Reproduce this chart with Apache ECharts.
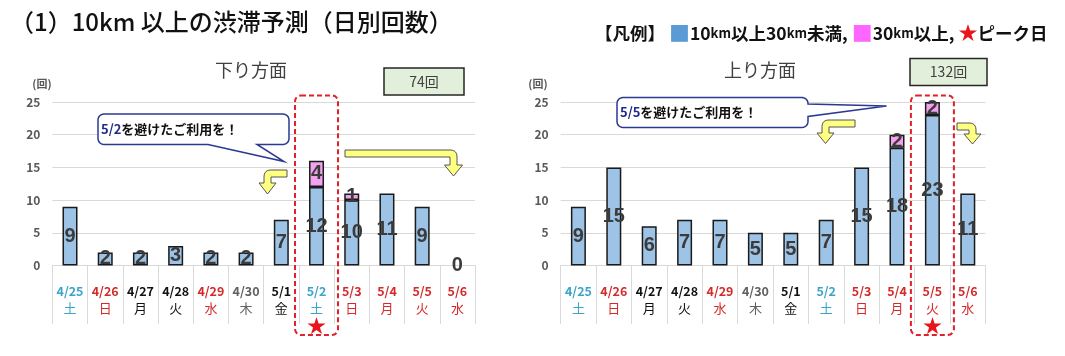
<!DOCTYPE html>
<html><head><meta charset="utf-8">
<script src="https://cdn.jsdelivr.net/npm/echarts@6/dist/echarts.min.js"></script>
<style>html,body{margin:0;padding:0;background:#fff}#c{width:1065px;height:356px}</style>
</head><body><div id="c"></div>
<script>
// ---- data ----
const categoryDates = ['4/25','4/26','4/27','4/28','4/29','4/30','5/1','5/2','5/3','5/4','5/5','5/6'];
const categoryWeekdays = ['土','日','月','火','水','木','金','土','日','月','火','水'];
const categoryColorKeys = ['c','r','k','k','r','g','k','c','r','r','r','r'];
const downUnder30 = [9,2,2,3,2,2,7,12,10,11,9,0];
const downOver30  = [0,0,0,0,0,0,0,4,1,0,0,0];
const upUnder30   = [9,15,6,7,7,5,5,7,15,18,23,11];
const upOver30    = [0,0,0,0,0,0,0,0,0,2,2,0];
const downPeakIndex = 7;
const upPeakIndex = 10;
const downTotalLabel = '74回';
const upTotalLabel = '132回';
const yMin = 0, yMax = 25, yStep = 5;

// ---- style ----
const FONT = "'Noto Sans CJK JP', sans-serif";
const colorMap = {c:'#3aa5c9', r:'#d42a2a', k:'#111111', g:'#606060'};
const rich = {};
Object.keys(colorMap).forEach(k => {
  rich['d'+k] = {color: colorMap[k], fontWeight:'bold', fontSize:12.5, lineHeight:17, fontFamily: FONT};
  rich['w'+k] = {color: colorMap[k], fontSize:13, lineHeight:17, fontFamily: FONT};
});
rich.s = {color:'#e8141e', fontSize:19, lineHeight:17, fontFamily: FONT};

function xAxisCfg(gridIndex, peak) {
  return {
    type:'category', gridIndex, data: categoryDates,
    axisLine:{show:true, lineStyle:{color:'#d9d9d9', width:1}},
    axisTick:{show:true, length:58.5, interval:0, lineStyle:{color:'#d9d9d9', width:1}},
    axisLabel:{interval:0, margin:17.5, rich,
      formatter:(v, i) => {
        const k = categoryColorKeys[i];
        let s = '{d'+k+'|'+v+'}\n{w'+k+'|'+categoryWeekdays[i]+'}';
        if (i === peak) s += '\n{s|★}';
        return s;
      }}
  };
}
function yAxisCfg(gridIndex) {
  return {
    type:'value', gridIndex, min:yMin, max:yMax, interval:yStep,
    axisLine:{show:false}, axisTick:{show:false},
    splitLine:{lineStyle:{color:'#d9d9d9', width:1}},
    axisLabel:{color:'#595959', fontSize:12, fontWeight:'bold', margin:12, fontFamily: FONT}
  };
}
function barSeries(data, xi, stack, color, hideZero) {
  return {
    type:'bar', xAxisIndex:xi, yAxisIndex:xi, stack, barWidth:15,
    data: data.map(v => v === 0 ? {value:v, itemStyle:{borderWidth:0}} : v),
    itemStyle:{color, borderColor:'#1a1a1a', borderWidth:1.5},
    label:{show:true, position:'inside', color:'#3b3b3b', fontSize:20, fontWeight:'bold',
      fontFamily:"'Liberation Sans', sans-serif",
      formatter: p => (hideZero && p.value === 0) ? '' : String(p.value)},
    z: 3
  };
}

const chart = echarts.init(document.getElementById('c'), null, {renderer:'canvas'});
chart.setOption({
  animation:false,
  backgroundColor:'#ffffff',
  textStyle:{fontFamily: FONT},
  grid:[
    {left:52.4, right:590, top:102, bottom:90.5},
    {left:560.7, right:79.5, top:102, bottom:90.5}
  ],
  xAxis:[xAxisCfg(0, downPeakIndex), xAxisCfg(1, upPeakIndex)],
  yAxis:[yAxisCfg(0), yAxisCfg(1)],
  series:[
    barSeries(downUnder30, 0, 'down', '#9dc3e6', false),
    barSeries(downOver30, 0, 'down', '#f2a2ee', true),
    barSeries(upUnder30, 1, 'up', '#9dc3e6', false),
    barSeries(upOver30, 1, 'up', '#f2a2ee', true)
  ]
});

// ---- annotation helpers ----
function quad(p0, c, p1, n) {
  const pts = [];
  for (let i = 1; i <= n; i++) {
    const t = i / n, u = 1 - t;
    pts.push([u*u*p0[0] + 2*u*t*c[0] + t*t*p1[0], u*u*p0[1] + 2*u*t*c[1] + t*t*p1[1]]);
  }
  return pts;
}
function bentArrow(x0, y0, x1, t, yh, ytip, hw, dir) {
  const r = 7;
  let pts;
  if (dir === 1) {
    pts = [[x0,y0],[x1-r,y0], ...quad([x1-r,y0],[x1,y0],[x1,y0+r],6),
      [x1,yh],[x1+hw,yh],[x1-t/2,ytip],[x1-t-hw,yh],[x1-t,yh],[x1-t,y0+t],[x0,y0+t]];
  } else {
    pts = [[x0,y0],[x1+r,y0], ...quad([x1+r,y0],[x1,y0],[x1,y0+r],6),
      [x1,yh],[x1-hw,yh],[x1+t/2,ytip],[x1+t+hw,yh],[x1+t,yh],[x1+t,y0+t],[x0,y0+t]];
  }
  return {type:'polygon', shape:{points:pts}, style:{fill:'#ffff80', stroke:'#555555', lineWidth:1}, z:10};
}
function arcPts(cx, cy, r, a0, a1) {
  const pts = [];
  for (let i = 0; i <= 6; i++) {
    const a = (a0 + (a1 - a0) * i / 6) * Math.PI / 180;
    pts.push([cx + r*Math.cos(a), cy + r*Math.sin(a)]);
  }
  return pts;
}
function callout(x1, y1, x2, y2, r, tail) {
  let pts = [];
  pts.push(...arcPts(x1+r, y1+r, r, 180, 270));
  pts.push(...arcPts(x2-r, y1+r, r, 270, 360));
  if (tail.edge === 'right') pts.push([x2, tail.a], tail.tip, [x2, tail.b]);
  pts.push(...arcPts(x2-r, y2-r, r, 0, 90));
  if (tail.edge === 'bottom') pts.push([tail.b, y2], tail.tip, [tail.a, y2]);
  pts.push(...arcPts(x1+r, y2-r, r, 90, 180));
  return {type:'polygon', shape:{points:pts}, style:{fill:'#ffffff', stroke:'#2b3990', lineWidth:1.5}, z:10};
}
function peakBox(xi, peak) {
  const cx = chart.convertToPixel({xAxisIndex:xi}, peak);
  const yTop = chart.convertToPixel({yAxisIndex:xi}, 26);
  const y0 = chart.convertToPixel({yAxisIndex:xi}, 0);
  return {type:'rect', shape:{x:cx-21.5, y:yTop, width:43, height:(y0+69.5)-yTop, r:6},
    style:{fill:'none', stroke:'#e0202a', lineWidth:2, lineDash:[5,3]}, z:9};
}
const calloutText = {b:{fill:'#1f2a8a', fontWeight:'bold', fontSize:13, fontFamily:FONT},
                     t:{fill:'#111111', fontWeight:'bold', fontSize:13, fontFamily:FONT}};

chart.setOption({graphic:[
  {type:'text', x:10, y:22, style:{text:'（1）10km 以上の渋滞予測（日別回数）', fill:'#111', fontSize:24, fontWeight:500, fontFamily:FONT, verticalAlign:'middle'}},
  {type:'text', x:595, y:33, style:{
    text:'{t|【凡例】 }{b|■}{t|10}{k|km}{t|以上30}{k|km}{t|未満, }{p|■}{t|30}{k|km}{t|以上, }{s|★}{t|ピーク日}',
    verticalAlign:'middle',
    rich:{t:{fill:'#111', fontWeight:'bold', fontSize:17.5, fontFamily:FONT},
          k:{fill:'#111', fontWeight:'bold', fontSize:13, fontFamily:FONT},
          b:{fill:'#5b9bd5', fontSize:21, fontFamily:FONT},
          p:{fill:'#ff66ff', fontSize:21, fontFamily:FONT},
          s:{fill:'#e8141e', fontSize:19, fontFamily:FONT}}}},
  {type:'text', x:251, y:70, style:{text:'下り方面', fill:'#404040', fontSize:18, fontFamily:FONT, align:'center', verticalAlign:'middle'}},
  {type:'text', x:760, y:70, style:{text:'上り方面', fill:'#404040', fontSize:18, fontFamily:FONT, align:'center', verticalAlign:'middle'}},
  {type:'text', x:42, y:84, style:{text:'(回)', fill:'#595959', fontSize:11, fontWeight:'bold', fontFamily:FONT, align:'center', verticalAlign:'middle'}},
  {type:'text', x:538, y:84, style:{text:'(回)', fill:'#595959', fontSize:11, fontWeight:'bold', fontFamily:FONT, align:'center', verticalAlign:'middle'}},
  {type:'rect', shape:{x:384, y:68, width:80, height:27}, style:{fill:'#e2efda', stroke:'#262626', lineWidth:1.5}},
  {type:'text', x:424, y:81.5, style:{text:downTotalLabel, fill:'#404040', fontSize:14, fontFamily:FONT, align:'center', verticalAlign:'middle'}},
  {type:'rect', shape:{x:910, y:58.5, width:77, height:27}, style:{fill:'#e2efda', stroke:'#262626', lineWidth:1.5}},
  {type:'text', x:948.5, y:72, style:{text:upTotalLabel, fill:'#404040', fontSize:14, fontFamily:FONT, align:'center', verticalAlign:'middle'}},
  peakBox(0, downPeakIndex),
  peakBox(1, upPeakIndex),
  callout(98, 114, 289, 144.5, 6, {edge:'bottom', a:208, b:257, tip:[284,161.5]}),
  {type:'text', x:101, y:129.5, style:{text:'{b|5/2}{t|を避けたご利用を！}', rich:calloutText, verticalAlign:'middle'}, z:11},
  callout(617, 97.5, 808, 127.5, 6, {edge:'right', a:104, b:116.5, tip:[886.5,106]}),
  {type:'text', x:620, y:112.5, style:{text:'{b|5/5}{t|を避けたご利用を！}', rich:calloutText, verticalAlign:'middle'}, z:11},
  bentArrow(287, 170, 264, 7, 183, 194, 5, -1),
  bentArrow(345, 150, 457, 7, 165, 176, 5.5, 1),
  bentArrow(855, 120, 822, 7, 133, 143.5, 5, -1),
  bentArrow(957, 123, 976, 7, 134, 144, 5, 1)
]});
</script>
</body></html>
